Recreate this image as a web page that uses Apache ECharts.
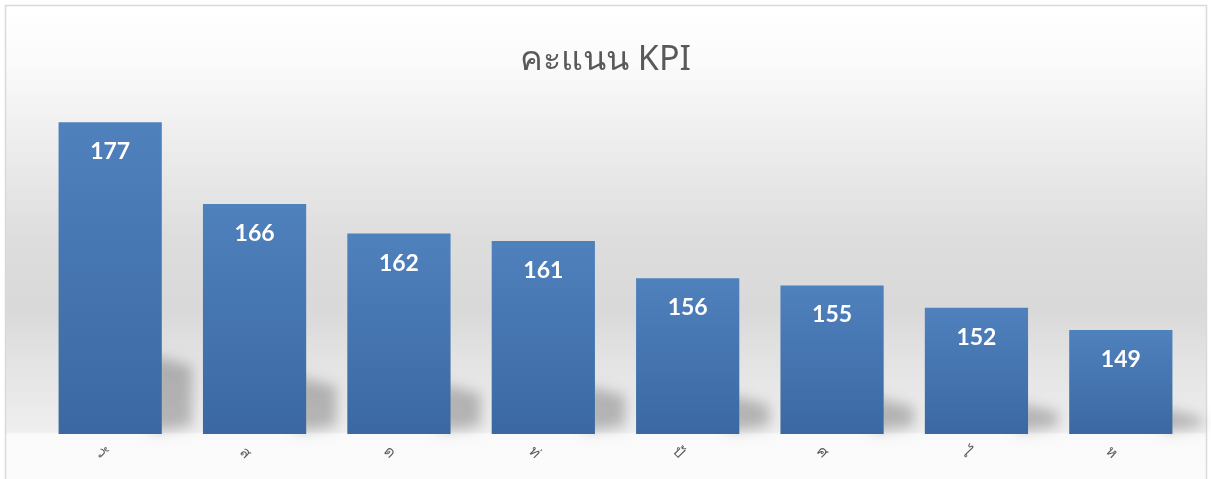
<!DOCTYPE html>
<html>
<head>
<meta charset="utf-8">
<script src="https://cdn.jsdelivr.net/npm/echarts@6/dist/echarts.min.js"></script>
<style>
html,body{margin:0;padding:0;background:#ffffff;}
#chart{width:1211px;height:479px;}
</style>
</head>
<body>
<div id="chart"></div>
<script>
const titleText = 'คะแนน KPI';
const categories = ['วั', 'ส', 'ด', 'ท่', 'ป้', 'ศ', 'ไ', 'ห'];
const values = [177, 166, 162, 161, 156, 155, 152, 149];
const axisMin = 135;
const axisMax = 180;

const chart = echarts.init(document.getElementById('chart'), null, {renderer: 'canvas'});

const bgTop = 6, bgBottom = 486;
function off(y) { return (y - bgTop) / (bgBottom - bgTop); }
const SHIFT = 3000;

const option = {
  animation: false,
  backgroundColor: '#ffffff',
  graphic: [{
    type: 'rect',
    z: -10,
    silent: true,
    shape: {x: 5.5, y: 5.5, width: 1201, height: 490},
    style: {
      fill: {
        type: 'linear', x: 0, y: bgTop, x2: 0, y2: bgBottom, global: true,
        colorStops: [
          {offset: 0, color: '#ffffff'},
          {offset: off(60), color: '#fbfbfb'},
          {offset: off(150), color: '#ececec'},
          {offset: off(240), color: '#dddddd'},
          {offset: off(310), color: '#d9d9d9'},
          {offset: off(360), color: '#e3e3e3'},
          {offset: off(432), color: '#efefef'},
          {offset: off(434), color: '#fafafa'},
          {offset: 1, color: '#fbfbfb'}
        ]
      },
      stroke: '#d9d9d9',
      lineWidth: 1.5
    }
  }],
  title: {
    text: titleText,
    left: 'center',
    top: 38,
    textStyle: {
      fontFamily: 'Noto Sans, sans-serif',
      fontSize: 34,
      fontWeight: 'normal',
      color: '#595959'
    }
  },
  grid: {left: 38, right: 18, top: 100, bottom: 45},
  xAxis: {
    type: 'category',
    data: categories,
    axisLine: {show: false},
    axisTick: {show: false},
    axisLabel: {
      rotate: -45,
      align: 'center',
      verticalAlign: 'middle',
      margin: 28,
      fontSize: 15,
      color: '#595959',
      fontFamily: 'Noto Sans, sans-serif',
      padding: [0, 26, 0, 0]
    }
  },
  yAxis: {
    type: 'value',
    min: axisMin,
    max: axisMax,
    show: false,
    splitLine: {show: false}
  },
  series: [
    {
      type: 'custom',
      z: 1,
      clip: false,
      silent: true,
      data: values.map((v, i) => [i, v]),
      encode: {x: 0, y: 1},
      renderItem: function (params, api) {
        const i = api.value(0), v = api.value(1);
        const base = api.coord([i, axisMin]);
        const top = api.coord([i, v]);
        const w = api.size([1, 0])[0] * 0.715;
        const xr = base[0] + w / 2 - SHIFT;
        const yb = base[1];
        const sh = (yb - top[1]) * 0.25;
        return {
          type: 'polygon',
          shape: {points: [
            [xr - 10, yb - sh],
            [xr + 30, yb - sh + 10],
            [xr + 30, yb - 8],
            [xr - 10, yb - 2]
          ]},
          style: {
            fill: '#000',
            shadowBlur: 13,
            shadowOffsetX: SHIFT,
            shadowColor: 'rgba(0,0,0,0.24)'
          }
        };
      }
    },
    {
      type: 'bar',
      z: 2,
      data: values,
      barWidth: '71.5%',
      itemStyle: {
        color: {
          type: 'linear', x: 0, y: 0, x2: 0, y2: 1,
          colorStops: [
            {offset: 0, color: '#4f81bd'},
            {offset: 1, color: '#3b68a2'}
          ]
        }
      },
      label: {
        show: true,
        position: 'insideTop',
        distance: 18,
        color: '#ffffff',
        fontSize: 23,
        fontWeight: 'bold',
        fontFamily: 'Lato, sans-serif'
      }
    }
  ]
};

chart.setOption(option);
</script>
</body>
</html>
